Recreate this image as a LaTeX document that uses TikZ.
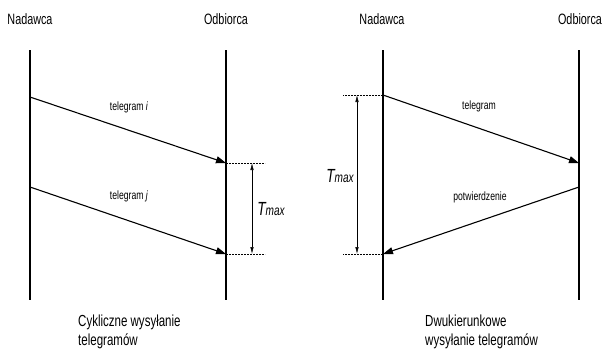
\documentclass[tikz,border=0pt]{standalone}
\usepackage{fontspec}
\setmainfont{Liberation Sans}[FakeStretch=0.72]
\usetikzlibrary{arrows.meta}

\tikzset{
  lifeline/.style={line width=1.6pt},
  msg/.style={line width=1.1pt, -{Triangle[length=10pt,width=7pt]}},
  guide/.style={line width=0.8pt, dash pattern=on 2pt off 1pt},
  span/.style={line width=0.6pt, {Latex[length=7pt,width=3.5pt]}-{Latex[length=7pt,width=3.5pt]}},
  head/.style={font=\fontsize{15}{17}\selectfont, inner sep=0pt},
  lbl/.style={font=\fontsize{12}{14}\selectfont, inner sep=0pt},
  captext/.style={font=\fontsize{16}{19}\selectfont, inner sep=0pt, align=left, anchor=north west},
  tmax/.style={inner sep=0pt}
}
\newcommand{\tmaxtext}{{\fontsize{19}{19}\selectfont\itshape T}{\fontsize{14}{14}\selectfont\itshape max}}

\begin{document}
\begin{tikzpicture}[x=1pt,y=-1pt]
  \useasboundingbox (0,0) rectangle (603,349);

  % ---------- cyclic sending ----------
  \node[head] (n1) at (30,19) {Nadawca};
  \node[head] (o1) at (226,19) {Odbiorca};
  \coordinate (n1t) at (30,50);   \coordinate (n1b) at (30,300);
  \coordinate (o1t) at (226,50);  \coordinate (o1b) at (226,300);
  \draw[lifeline] (n1t) -- (n1b);
  \draw[lifeline] (o1t) -- (o1b);

  \coordinate (si) at (30,97);   \coordinate (ri) at (226,163);
  \coordinate (sj) at (30,187);  \coordinate (rj) at (226,254);
  \draw[msg] (si) -- (ri);
  \draw[msg] (sj) -- (rj);
  \node[lbl] (li) at (129,107) {telegram \textit{i}};
  \node[lbl] (lj) at (129,196) {telegram \textit{j}};

  \coordinate (gi) at (265,163);  \coordinate (gj) at (265,254);
  \draw[guide] (ri) -- (gi);
  \draw[guide] (rj) -- (gj);
  \coordinate (ai) at (252,163);  \coordinate (aj) at (252,254);
  \draw[span] (ai) -- (aj);
  \node[tmax] (t1) at (271,209) {\tmaxtext};

  % ---------- two-way sending ----------
  \node[head] (n2) at (382,19) {Nadawca};
  \node[head] (o2) at (580,19) {Odbiorca};
  \coordinate (n2t) at (383,50);  \coordinate (n2b) at (383,300);
  \coordinate (o2t) at (579,50);  \coordinate (o2b) at (579,300);
  \draw[lifeline] (n2t) -- (n2b);
  \draw[lifeline] (o2t) -- (o2b);

  \coordinate (st) at (383,95);   \coordinate (rt) at (579,163);
  \coordinate (sa) at (579,187);  \coordinate (ra) at (383,254);
  \draw[msg] (st) -- (rt);
  \draw[msg] (sa) -- (ra);
  \node[lbl] (lt) at (479,106) {telegram};
  \node[lbl] (la) at (480,197) {potwierdzenie};

  \coordinate (gt) at (343,95);   \coordinate (ga) at (343,254);
  \draw[guide] (st) -- (gt);
  \draw[guide] (ra) -- (ga);
  \coordinate (at) at (357,95);   \coordinate (aa) at (357,254);
  \draw[span] (at) -- (aa);
  \node[tmax] (t2) at (340,176) {\tmaxtext};

  % ---------- captions ----------
  \node[captext] (c1) at (78,315) {Cykliczne wysyłanie\\telegramów};
  \node[captext] (c2) at (425,315) {Dwukierunkowe\\wysyłanie telegramów};
\end{tikzpicture}
\end{document}
